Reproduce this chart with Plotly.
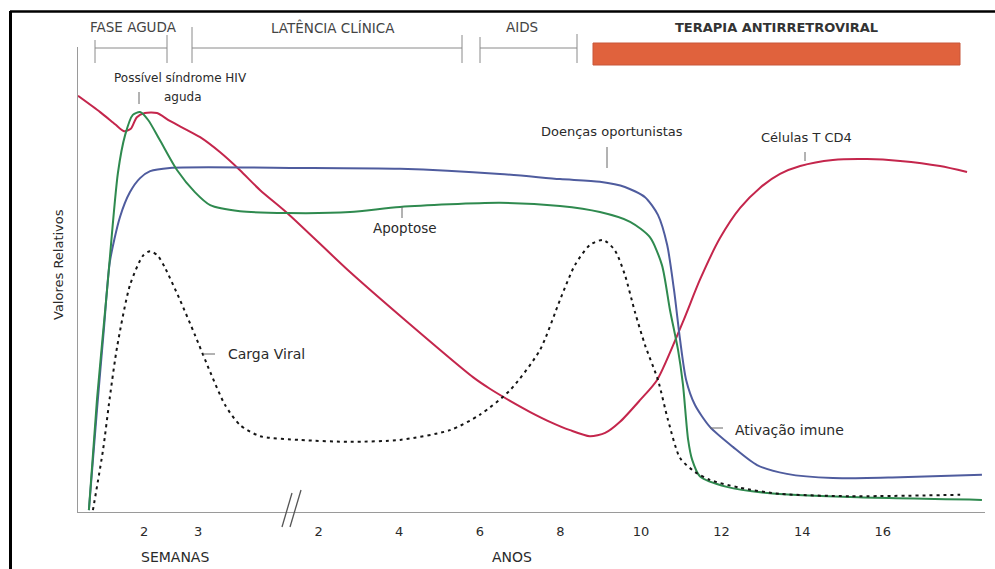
import plotly.graph_objects as go

# ---------------- data ----------------
# x: time axis (years; the first weeks are drawn compressed before year 0)
# y: relative value (0-100)
tick_vals = [-2.33, -0.99, 2, 4, 6, 8, 10, 12, 14, 16]
tick_text = ["2", "3", "2", "4", "6", "8", "10", "12", "14", "16"]

cd4_x = [-3.97, -3.42, -3.05, -2.83, -2.66, -2.51, -2.31, -2.01, -1.69, -0.94, -0.45, 0.05, 0.55,
         1.22, 2.78, 4.02, 5.83, 6.25, 6.75, 7.25, 7.74, 8.24, 8.73, 9.11, 9.48, 9.98, 10.40,
         11.04, 11.46, 11.96, 12.46, 12.95, 13.45, 13.95, 14.76, 15.61, 16.43, 17.42, 18.09]
cd4_y = [89.5, 86.0, 83.4, 81.9, 82.4, 84.9, 85.8, 85.8, 84.1, 80.6, 77.4, 73.5, 69.2,
         64.3, 51.6, 42.2, 29.0, 26.5, 23.9, 21.5, 19.4, 17.6, 16.3, 17.0, 19.4, 24.1, 28.4,
         40.9, 49.9, 58.9, 65.4, 69.7, 72.7, 74.4, 75.7, 75.9, 75.5, 74.4, 73.1]

apop_x = [-3.70, -3.50, -3.25, -2.98, -2.80, -2.61, -2.43, -2.23, -1.94, -1.51, -1.07, -0.69, 0.05,
          1.22, 2.78, 4.02, 6.50, 7.99, 8.98, 9.73, 10.22, 10.52, 10.72, 10.92, 11.04, 11.17,
          11.27, 11.46, 12.13, 13.13, 15.19, 18.46]
apop_y = [0.4, 24.1, 47.7, 72.9, 81.1, 85.4, 86.0, 84.3, 80.0, 73.5, 68.8, 66.0, 64.7,
          64.3, 64.5, 65.6, 66.5, 65.8, 64.5, 62.4, 59.1, 53.1, 43.4, 34.8, 27.5, 15.5,
          11.2, 7.7, 5.4, 4.1, 3.2, 2.6]

imm_x = [-3.70, -3.50, -3.33, -3.18, -2.93, -2.68, -2.43, -2.18, -1.69, 1.54, 4.02, 6.50, 7.99,
         8.98, 9.60, 10.10, 10.42, 10.65, 10.82, 10.97, 11.12, 11.34, 11.71, 12.28, 12.88,
         13.62, 14.76, 16.43, 18.46]
imm_y = [0.4, 21.9, 39.1, 53.8, 63.4, 68.8, 71.8, 73.3, 74.0, 74.0, 73.8, 72.7, 71.6,
         71.0, 69.9, 67.7, 63.9, 57.4, 47.7, 37.0, 28.4, 23.0, 18.3, 14.0, 10.1,
         8.2, 7.3, 7.5, 8.0]

vir_x = [-3.60, -3.35, -3.18, -3.00, -2.68, -2.36, -2.18, -1.99, -1.81, -1.44, -1.07, -0.69, -0.32,
         0.05, 0.55, 1.54, 2.78, 4.02, 5.26, 6.00, 6.75, 7.49, 7.99, 8.36, 8.73, 9.06, 9.35, 9.60,
         9.85, 10.10, 10.42, 10.67, 10.97, 11.34, 11.71, 12.46, 13.45, 15.19, 17.92]
vir_y = [0.4, 13.3, 24.7, 35.5, 48.8, 55.1, 56.1, 55.1, 52.5, 45.6, 38.1, 30.1, 23.0,
         18.7, 16.3, 15.5, 15.1, 15.5, 17.6, 20.9, 26.2, 34.8, 45.6, 53.1, 57.4, 58.5, 56.3, 51.0,
         43.0, 35.9, 28.4, 19.8, 11.6, 8.6, 6.9, 5.2, 3.9, 3.4, 3.7]

# ---------------- figure ----------------
L, R, T, B = 78, 985, 47, 512
W, H = 995, 569


def px(x):
    return (x - L) / (R - L)


def py(y):
    return (B - y) / (B - T)


FONT = "DejaVu Sans"
fig = go.Figure()
fig.add_trace(go.Scatter(x=cd4_x, y=cd4_y, mode="lines", name="Células T CD4",
                         line=dict(color="#C4264C", width=2, shape="spline", smoothing=0.7)))
fig.add_trace(go.Scatter(x=imm_x, y=imm_y, mode="lines", name="Ativação imune",
                         line=dict(color="#4F5C9E", width=2, shape="spline", smoothing=0.7)))
fig.add_trace(go.Scatter(x=apop_x, y=apop_y, mode="lines", name="Apoptose",
                         line=dict(color="#2F8A4F", width=2, shape="spline", smoothing=0.7)))
fig.add_trace(go.Scatter(x=vir_x, y=vir_y, mode="lines", name="Carga Viral",
                         line=dict(color="#151515", width=2, shape="spline", smoothing=0.7,
                                   dash="3px,4px")))

shapes = []


def seg(x0, y0, x1, y1, color="#8a8a8a", width=1):
    shapes.append(dict(type="line", xref="paper", yref="paper",
                       x0=px(x0), y0=py(y0), x1=px(x1), y1=py(y1),
                       line=dict(color=color, width=width)))


# frame
seg(10, 11.5, 995, 11.5, "#000000", 2.5)
seg(10.5, 11, 10.5, 569, "#000000", 3)

# phase brackets
seg(95, 48, 167, 48)
seg(95, 40, 95, 63)
seg(167, 35, 167, 63)
seg(192, 48, 462, 48)
seg(192, 27, 192, 63)
seg(462, 35, 462, 63)
seg(480, 48, 577, 48)
seg(480, 37, 480, 63)
seg(577, 34, 577, 63)
shapes.append(dict(type="rect", xref="paper", yref="paper",
                   x0=px(593), y0=py(65), x1=px(960), y1=py(43),
                   fillcolor="#E0623D", line=dict(color="#C8573A", width=1)))

# axis break
seg(282, 527, 292, 493, "#555555", 1.3)
seg(290, 527, 301, 490, "#555555", 1.3)

# leader lines
seg(139, 92, 139, 104, "#666666")
seg(607, 147, 607, 168, "#666666")
seg(805, 152, 805, 161, "#666666")
seg(402, 207, 402, 218, "#666666")
seg(203, 354, 215, 354, "#666666")
seg(710, 428, 723, 428, "#666666")

annotations = []


def txt(s, x, y, size=13, color="#2a2a2a", bold=False, angle=0):
    annotations.append(dict(text=("<b>%s</b>" % s) if bold else s,
                            xref="paper", yref="paper", x=px(x), y=py(y),
                            xanchor="center", yanchor="middle", showarrow=False,
                            textangle=angle,
                            font=dict(family=FONT, size=size, color=color)))


txt("FASE AGUDA", 133, 27, 13.5, "#444444")
txt("LATÊNCIA CLÍNICA", 333, 27, 13.5, "#444444")
txt("AIDS", 522, 27, 13.5, "#444444")
txt("TERAPIA ANTIRRETROVIRAL", 776, 27, 13, "#333333", bold=True)
txt("Possível síndrome HIV", 180, 78, 12)
txt("aguda", 183, 97, 12)
txt("Doenças oportunistas", 612, 132)
txt("Células T CD4", 806, 137)
txt("Apoptose", 405, 228, 13.5)
txt("Carga Viral", 266, 354, 14)
txt("Ativação imune", 789, 430, 14)
txt("Valores Relativos", 58, 265, 13, angle=-90)
txt("SEMANAS", 175, 557, 14)
txt("ANOS", 512, 557, 14)

fig.update_layout(
    width=W, height=H,
    margin=dict(l=L, r=W - R, t=T, b=H - B),
    paper_bgcolor="white", plot_bgcolor="white",
    showlegend=False,
    shapes=shapes, annotations=annotations,
    xaxis=dict(range=[(L - 238) / 40.3, (R - 238) / 40.3], showline=True, linecolor="#9a9a9a",
               linewidth=1, showgrid=False, zeroline=False, ticks="",
               tickvals=tick_vals, ticktext=tick_text, ticklabelstandoff=7,
               tickfont=dict(family=FONT, size=13, color="#2a2a2a"), fixedrange=True),
    yaxis=dict(range=[0, 100], showline=True, linecolor="#9a9a9a", linewidth=1,
               showgrid=False, zeroline=False, ticks="", showticklabels=False, fixedrange=True),
)

fig.write_html("out.html", config={"displayModeBar": False},
               post_script="document.body.style.margin='0px';document.body.style.overflow='hidden';")
